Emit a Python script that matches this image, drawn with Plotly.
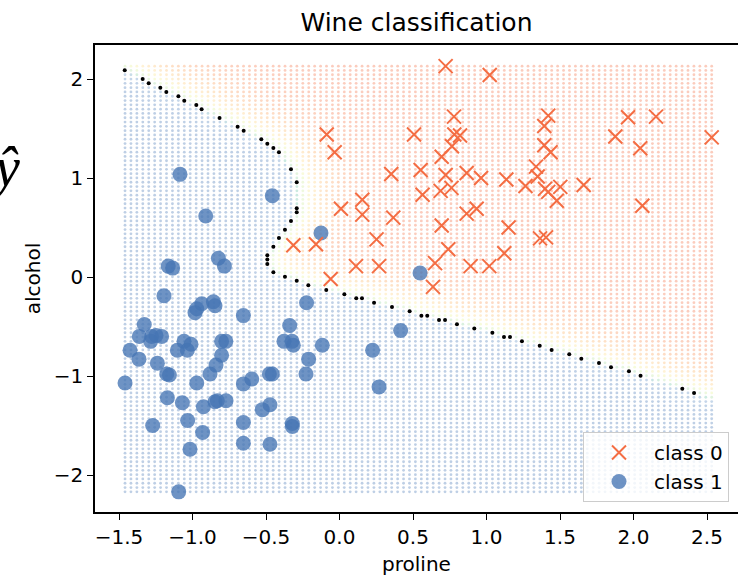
import numpy as np
import plotly.graph_objects as go

# ---------------- data (standardized features) ----------------
# class 0 samples: proline, alcohol
c0_proline = [0.722, 1.022, 0.779, 1.42, 1.393, 1.963, 2.153, 2.532, 1.876, 2.046,
              -0.087, -0.033, 0.507, 0.781, 0.82, 0.765, 0.695, 1.393, 1.436, 0.352,
              0.552, 0.722, 0.865, 0.963, 1.135, 1.265, 1.337, 1.348, 1.398, 1.42,
              1.502, 1.478, 1.661, 2.06, 0.565, 0.688, 0.762, 0.010, 0.155, 0.155,
              0.366, 0.865, 0.933, 0.695, 1.15, 0.252, -0.160, 0.740, 1.364, 1.405,
              1.121, 0.112, 0.269, 0.650, 0.892, 1.019, -0.060, 0.636, -0.314]
c0_alcohol = [2.13, 2.04, 1.62, 1.63, 1.525, 1.613, 1.62, 1.41, 1.42, 1.30,
              1.44, 1.26, 1.44, 1.44, 1.43, 1.32, 1.215, 1.33, 1.26, 1.04,
              1.08, 1.03, 1.05, 1.00, 0.985, 0.92, 1.115, 1.015, 0.89, 0.86,
              0.91, 0.77, 0.93, 0.72, 0.83, 0.87, 0.90, 0.69, 0.78, 0.63,
              0.60, 0.64, 0.69, 0.52, 0.50, 0.38, 0.33, 0.28, 0.39, 0.40,
              0.24, 0.11, 0.11, 0.14, 0.11, 0.11, -0.02, -0.10, 0.32]

# class 1 samples: proline, alcohol
c1_proline = [-1.085, -0.910, -0.457, -1.165, -1.135, -0.824, -0.783, -0.126, 0.548,
              -1.194, -1.328, -1.362, -1.278, -1.248, -1.21, -1.285,
              -1.425, -1.364, -1.239, -1.175, -1.157, -1.459,
              -0.971, -0.937, -0.983, -0.858, -0.847, -0.654,
              -1.058, -1.010, -1.103, -1.035,
              -0.802, -0.773, -0.802, -0.840, -0.881,
              -0.971, -1.171, -1.069, -0.926,
              -0.847, -0.831, -0.772,
              -1.271, -1.033, -0.931, -1.017, -1.094,
              -0.654, -0.597, -0.477, -0.457, -0.525, -0.473,
              -0.654, -0.654, -0.473, -0.321, -0.321, -0.339,
              -0.378, -0.323, -0.314, -0.210, -0.228, -0.117, -0.224,
              0.225, 0.269, 0.416]
c1_alcohol = [1.037, 0.616, 0.82, 0.11, 0.09, 0.19, 0.11, 0.445, 0.04,
              -0.19, -0.48, -0.60, -0.60, -0.59, -0.60, -0.65,
              -0.74, -0.83, -0.87, -0.98, -0.99, -1.07,
              -0.32, -0.27, -0.36, -0.25, -0.29, -0.39,
              -0.65, -0.68, -0.74, -0.74,
              -0.65, -0.65, -0.79, -0.89, -0.98,
              -1.07, -1.22, -1.27, -1.31,
              -1.26, -1.25, -1.25,
              -1.50, -1.45, -1.57, -1.74, -2.17,
              -1.08, -1.03, -0.98, -0.98, -1.34, -1.29,
              -1.47, -1.68, -1.69, -1.48, -1.51, -0.49,
              -0.65, -0.65, -0.69, -0.83, -0.98, -0.69, -0.26,
              -0.74, -1.11, -0.54]

# decision boundary grid points (p ~ 0.5)
bd_proline = [-1.461, -1.339, -1.298, -1.219, -1.178, -1.096, -1.056, -0.974, -0.938, -0.816,
              -0.693, -0.652, -0.532, -0.491, -0.450, -0.412, -0.330, -0.291, -0.291, -0.291,
              -0.330, -0.371, -0.412, -0.450, -0.491, -0.491, -0.491, -0.450, -0.371, -0.291,
              -0.212, -0.090, 0.033, 0.114, 0.153, 0.235, 0.357, 0.477, 0.557, 0.597,
              0.677, 0.718, 0.799, 0.917, 1.040, 1.119, 1.160, 1.241, 1.362, 1.443,
              1.563, 1.645, 1.765, 1.847, 1.969, 2.048, 2.332, 2.412]
bd_alcohol = [2.088, 2.0, 1.956, 1.912, 1.869, 1.825, 1.781, 1.737, 1.694, 1.606,
              1.518, 1.478, 1.391, 1.347, 1.303, 1.259, 1.088, 0.957, 0.694, 0.653,
              0.566, 0.478, 0.394, 0.306, 0.219, 0.178, 0.131, 0.047, 0.003, -0.037,
              -0.084, -0.131, -0.175, -0.215, -0.215, -0.259, -0.303, -0.347, -0.391, -0.391,
              -0.434, -0.434, -0.478, -0.519, -0.562, -0.606, -0.606, -0.650, -0.694, -0.737,
              -0.781, -0.825, -0.869, -0.912, -0.953, -0.997, -1.128, -1.172]

x_ticks = [-1.5, -1.0, -0.5, 0.0, 0.5, 1.0, 1.5, 2.0, 2.5]
y_ticks = [-2, -1, 0, 1, 2]

# ---------------- background probability grid ----------------
all_x = np.array(c0_proline + c1_proline)
all_y = np.array(c0_alcohol + c1_alcohol)
gx, gy = np.meshgrid(np.linspace(all_x.min(), all_x.max(), 100),
                     np.linspace(all_y.min(), all_y.max(), 100))
px, py = gx.ravel(), gy.ravel()

bx = np.array(bd_proline)
by = np.array(bd_alcohol)
bx = np.concatenate([[bx[0] + 6 * (bx[0] - bx[1])], bx, [bx[-1] + 12 * (bx[-1] - bx[-2])]])
by = np.concatenate([[by[0] + 6 * (by[0] - by[1])], by, [by[-1] + 12 * (by[-1] - by[-2])]])
ax_, ay_ = bx[:-1], by[:-1]
dx_, dy_ = bx[1:] - ax_, by[1:] - ay_
L2 = dx_ ** 2 + dy_ ** 2 + 1e-12
rx = px[:, None] - ax_[None, :]
ry = py[:, None] - ay_[None, :]
t = np.clip((rx * dx_ + ry * dy_) / L2, 0, 1)
qx = rx - t * dx_
qy = ry - t * dy_
dist = np.sqrt(qx ** 2 + qy ** 2)
k = dist.argmin(axis=1)
idx = np.arange(len(px))
dmin = dist[idx, k]
cross = dx_[k] * ry[idx, k] - dy_[k] * rx[idx, k]
sd = np.where(cross >= 0, dmin, -dmin)
val = np.where(sd >= 0, 1 - 0.5 * np.exp(-sd / 0.17), 0.5 * np.exp(sd / 0.07))

cscale = [[0.0, "#4575b4"], [0.40, "#5f8fc4"], [0.5, "#66c2a5"], [0.56, "#abdda4"],
          [0.64, "#e6f598"], [0.72, "#fee08b"], [0.85, "#fdae61"], [1.0, "#f46d43"]]

fig = go.Figure()
fig.add_trace(go.Scatter(x=px, y=py, mode="markers", showlegend=False, hoverinfo="skip",
                         marker=dict(size=2.8, color=val, colorscale=cscale, cmin=0, cmax=1,
                                     opacity=0.35, line=dict(width=0))))
fig.add_trace(go.Scatter(x=bd_proline, y=bd_alcohol, mode="markers", showlegend=False,
                         marker=dict(size=4, color="black", line=dict(width=0))))
fig.add_trace(go.Scatter(x=c1_proline, y=c1_alcohol, mode="markers", name="class 1",
                         legendrank=2,
                         marker=dict(size=15, color="#4575b4", opacity=0.78, line=dict(width=0))))
fig.add_trace(go.Scatter(x=c0_proline, y=c0_alcohol, mode="markers", name="class 0",
                         legendrank=1,
                         marker=dict(size=14, symbol="x-thin", color="#f46d43",
                                     line=dict(width=2, color="#f46d43"))))

W, H = 738, 578
L, R, T, B = 95, 0, 45, 66
pw, ph = W - L - R, H - T - B
x0 = -1.5 + (95 - 119) / 147.0
y0 = -2.3737
xr = [x0, x0 + pw / 147.0]
yr = [y0, y0 + ph / 99.0]

font = "DejaVu Sans"
fig.update_layout(
    width=W, height=H, margin=dict(l=L, r=R, t=T, b=B, autoexpand=False),
    paper_bgcolor="white", plot_bgcolor="white",
    font=dict(family=font, size=20, color="black"),
    title=dict(text="Wine classification", x=(L + pw / 2) / W, xanchor="center",
               y=1 - 22 / H, yanchor="middle", automargin=False,
               font=dict(size=25, family=font, color="black")),
    xaxis=dict(range=xr, tickvals=x_ticks, ticktext=[f"{v:.1f}".replace("-", "\u2212") for v in x_ticks],
               showgrid=False, zeroline=False, showline=True, linecolor="black", linewidth=1.6,
               mirror=True, ticks="outside", ticklen=6, tickwidth=1.4, tickcolor="black",
               automargin=False,
               title=dict(text="proline", standoff=9, font=dict(size=20)),
               tickfont=dict(size=20)),
    yaxis=dict(range=yr, tickvals=y_ticks, ticktext=[str(v).replace("-", "\u2212") for v in y_ticks],
               showgrid=False, zeroline=False, showline=True, linecolor="black", linewidth=1.6,
               mirror=False, ticks="outside", ticklen=6, tickwidth=1.4, tickcolor="black",
               automargin=False,
               title=dict(text="alcohol", standoff=8, font=dict(size=20)),
               tickfont=dict(size=20)),
    legend=dict(x=(729 - L) / pw, xanchor="right", y=(512 - 502) / ph, yanchor="bottom",
                bgcolor="rgba(255,255,255,0.8)", bordercolor="#cccccc", borderwidth=1,
                font=dict(size=20, family=font), itemwidth=60),
    annotations=[dict(text="<i>ŷ</i>", xref="paper", yref="paper",
                      x=(22 - L) / pw, xanchor="right", y=(512 - 167) / ph, yanchor="middle",
                      showarrow=False, font=dict(family="Liberation Serif", size=56, color="black"))],
)

fig.write_html("out.html", config={"displayModeBar": False},
               post_script="document.body.style.margin='0';")
